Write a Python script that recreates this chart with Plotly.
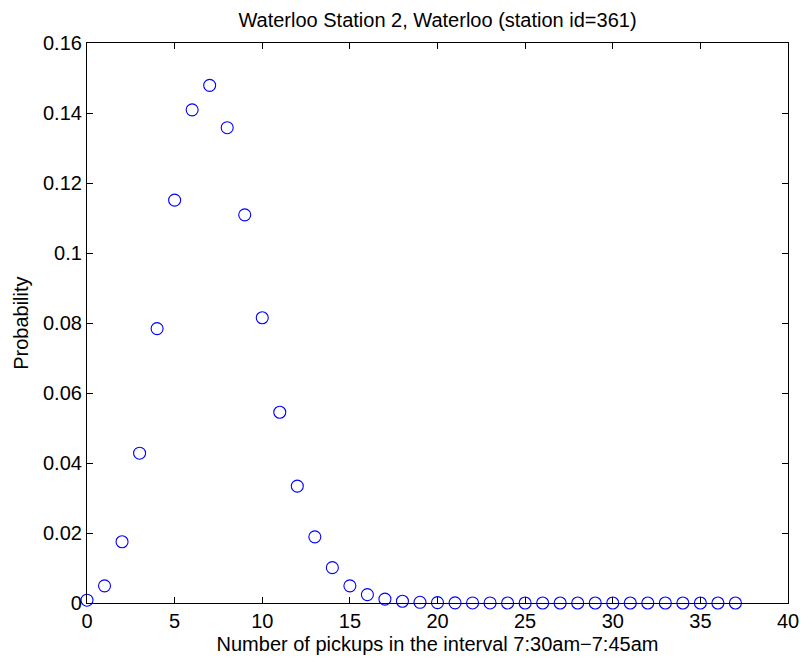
import plotly.graph_objects as go

pickups = list(range(0, 38))
probability = [0.0008, 0.0049, 0.0175, 0.0428, 0.0784, 0.1151, 0.1409, 0.1479,
               0.1358, 0.1109, 0.0815, 0.0545, 0.0334, 0.0189, 0.0101, 0.0049,
               0.0024, 0.0011, 0.0005, 0.0002, 0.0001, 0.00005, 0.00002, 0.00001,
               0.0, 0.0, 0.0, 0.0, 0.0, 0.0, 0.0, 0.0, 0.0, 0.0, 0.0, 0.0, 0.0, 0.0]

x_tickvals = [0, 5, 10, 15, 20, 25, 30, 35, 40]
x_ticktext = ["0", "5", "10", "15", "20", "25", "30", "35", "40"]
y_tickvals = [0, 0.02, 0.04, 0.06, 0.08, 0.1, 0.12, 0.14, 0.16]
y_ticktext = ["0", "0.02", "0.04", "0.06", "0.08", "0.1", "0.12", "0.14", "0.16"]

font_family = "Liberation Sans, Arial, Helvetica, sans-serif"
FS = 20

fig = go.Figure()
fig.add_trace(go.Scatter(
    x=pickups, y=probability, mode="markers",
    marker=dict(symbol="circle-open", size=12, color="#0000ff",
                line=dict(width=1.1, color="#0000ff")),
    cliponaxis=False, showlegend=False,
))

axis_common = dict(
    showgrid=False, zeroline=False, showline=True, linecolor="black", linewidth=1.2,
    mirror="ticks", ticks="inside", ticklen=6, tickwidth=1, tickcolor="black",
    tickfont=dict(family=font_family, size=FS, color="black"),
)

fig.update_layout(
    width=811, height=663,
    margin=dict(l=87, r=14, t=43, b=60),
    paper_bgcolor="white", plot_bgcolor="white",
    font=dict(family=font_family, color="black"),
    title=dict(text="Waterloo Station 2, Waterloo (station id=361)",
               x=0.5, xref="paper", xanchor="center",
               y=1 - 20 / 663, yref="container", yanchor="middle",
               font=dict(family=font_family, size=FS, color="black")),
    xaxis=dict(range=[0, 40], tickvals=x_tickvals, ticktext=x_ticktext,
               title=dict(text="Number of pickups in the interval 7:30am\u22127:45am",
                          font=dict(family=font_family, size=FS, color="black"),
                          standoff=5),
               **axis_common),
    yaxis=dict(range=[0, 0.16], tickvals=y_tickvals, ticktext=y_ticktext,
               **axis_common),
    annotations=[dict(text="Probability", textangle=-90, showarrow=False,
                      xref="paper", yref="paper", x=(20 - 87) / 710, y=0.5,
                      xanchor="center", yanchor="middle",
                      font=dict(family=font_family, size=FS, color="black"))],
)

fig.write_html("out.html")
